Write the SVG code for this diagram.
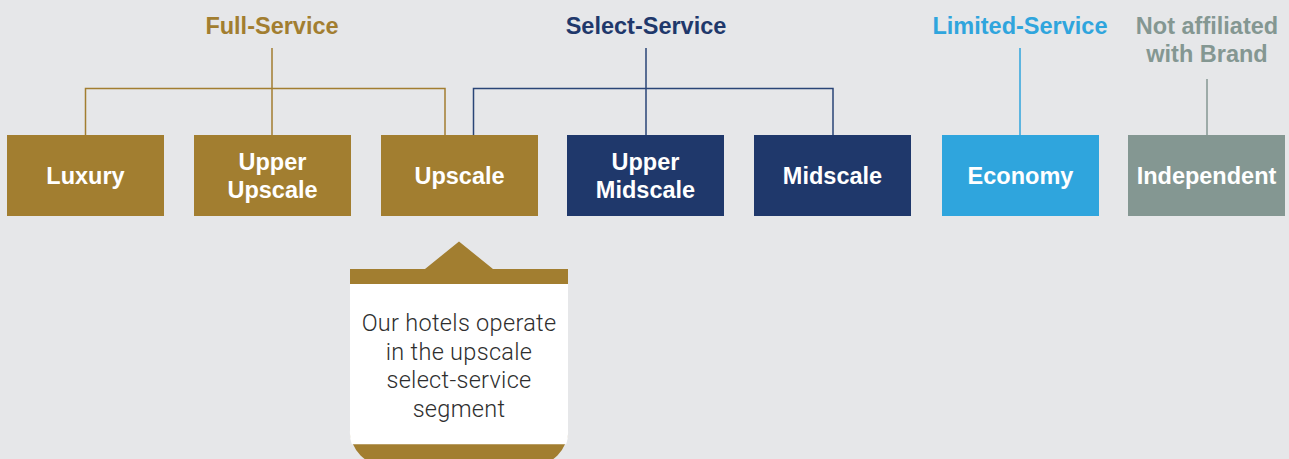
<svg xmlns="http://www.w3.org/2000/svg" width="1289" height="459" viewBox="0 0 1289 459">
<style>
.bg{fill:#e6e7e9}
.lbl{font-family:"Liberation Sans",Arial,sans-serif;font-weight:bold;font-size:23.5px;text-anchor:middle}
.box{font-family:"Liberation Sans",Arial,sans-serif;font-weight:bold;font-size:23.5px;text-anchor:middle;fill:#ffffff}
.gold{fill:#a27e30}
.navy{fill:#1f386b}
.blue{fill:#2fa5dd}
.grey{fill:#849792}
.ln{fill:none;stroke-width:1.5}
.call{font-family:Roboto,"Liberation Sans",Arial,sans-serif;font-weight:300;font-size:23.5px;letter-spacing:0.3px;text-anchor:middle;fill:#2e2e2e}
</style>
<rect class="bg" x="0" y="0" width="1289" height="459"/>

<g id="labels">
<text class="lbl gold" x="272" y="34">Full-Service</text>
<text class="lbl navy" x="646" y="34">Select-Service</text>
<text class="lbl blue" x="1020" y="34">Limited-Service</text>
<text class="lbl grey" x="1207" y="34">Not affiliated</text>
<text class="lbl grey" x="1207" y="62">with Brand</text>
</g>

<g id="connectors">
<path class="ln" stroke="#a27e30" d="M272 48V135M85.5 135V88.5H445V135"/>
<path class="ln" stroke="#2a4577" d="M646 48V135M473.5 135V88.5H833V135"/>
<path class="ln" stroke="#2fa5dd" d="M1020 48V135"/>
<path class="ln" stroke="#849792" d="M1207 79V135"/>
</g>

<g id="luxury"><rect class="gold" x="7" y="135" width="157" height="81"/><text class="box" x="85.5" y="184">Luxury</text></g>
<g id="upper-upscale"><rect class="gold" x="194" y="135" width="157" height="81"/><text class="box" x="272.5" y="170">Upper</text><text class="box" x="272.5" y="198">Upscale</text></g>
<g id="upscale"><rect class="gold" x="381" y="135" width="157" height="81"/><text class="box" x="459.5" y="184">Upscale</text></g>
<g id="upper-midscale"><rect class="navy" x="567" y="135" width="157" height="81"/><text class="box" x="645.5" y="170">Upper</text><text class="box" x="645.5" y="198">Midscale</text></g>
<g id="midscale"><rect class="navy" x="754" y="135" width="157" height="81"/><text class="box" x="832.5" y="184">Midscale</text></g>
<g id="economy"><rect class="blue" x="942" y="135" width="157" height="81"/><text class="box" x="1020.5" y="184">Economy</text></g>
<g id="independent"><rect class="grey" x="1128" y="135" width="157" height="81"/><text class="box" x="1206.5" y="184">Independent</text></g>

<g id="callout">
<path class="gold" d="M350 269H425L459 241.5L493 269H568V430A36 36 0 0 1 532 466H386A36 36 0 0 1 350 430Z"/>
<path fill="#ffffff" d="M350 284H568V430A36 36 0 0 1 566.2 444.3H351.8A36 36 0 0 1 350 430Z"/>
<text class="call" x="459" y="331">Our hotels operate</text>
<text class="call" x="459" y="359.5">in the upscale</text>
<text class="call" x="459" y="388">select-service</text>
<text class="call" x="459" y="416.5">segment</text>
</g>
</svg>
